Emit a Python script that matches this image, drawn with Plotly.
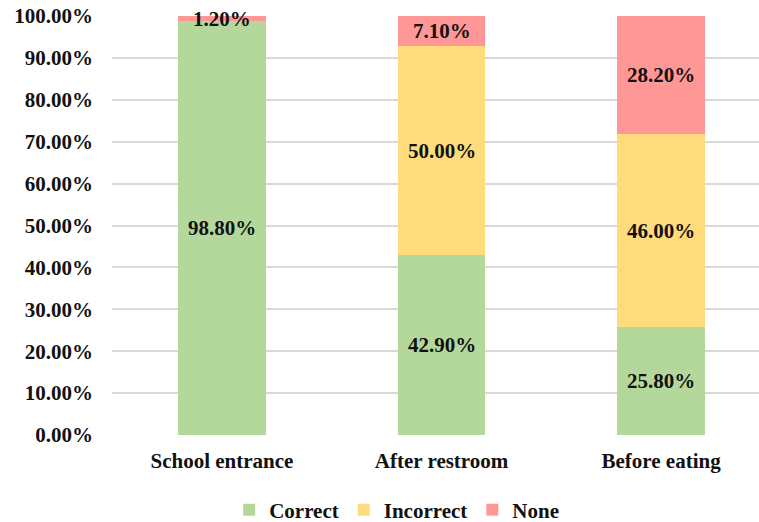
import plotly.graph_objects as go

# Hand-washing compliance by occasion (percent of observations)
categories = ["School entrance", "After restroom", "Before eating"]
correct = [98.8, 42.9, 25.8]
incorrect = [0.0, 50.0, 46.0]
none = [1.2, 7.1, 28.2]
tick_values = [0, 10, 20, 30, 40, 50, 60, 70, 80, 90, 100]
tick_labels = [f"{v:.2f}%" for v in tick_values]

series = [
    ("Correct", correct, "#B4D89C"),
    ("Incorrect", incorrect, "#FFDB7B"),
    ("None", none, "#FF9797"),
]

FONT = "Liberation Serif"
xpos = list(range(len(categories)))

fig = go.Figure()
for name, vals, color in series:
    fig.add_trace(go.Bar(
        x=xpos, y=vals, name=f"<b>{name}</b>", width=0.40,
        marker=dict(color=color, line=dict(width=0)),
    ))

# value labels centred in each segment
annotations = []
for i in xpos:
    base = 0.0
    for name, vals, color in series:
        v = vals[i]
        if v > 0:
            annotations.append(dict(
                x=i, y=base + v / 2, xref="x", yref="y",
                text=f"<b>{v:.2f}%</b>", showarrow=False,
                font=dict(family=FONT, size=21, color="#111111"),
            ))
        base += v

fig.update_layout(
    barmode="stack",
    width=759, height=522,
    margin=dict(l=112, r=0, t=16, b=87, autoexpand=False),
    paper_bgcolor="white", plot_bgcolor="white",
    font=dict(family=FONT, size=21, color="#111111"),
    annotations=annotations,
    bargap=0,
    legend=dict(
        orientation="h", x=0.44, xanchor="center", y=-0.179, yanchor="middle",
        font=dict(family=FONT, size=21, color="#111111"),
        bgcolor="rgba(0,0,0,0)",
        traceorder="normal", itemwidth=30,
    ),
    xaxis=dict(
        tickmode="array", tickvals=xpos, ticktext=[f"<b>{c}</b>" for c in categories],
        range=[-0.501, 2.446], showgrid=False, zeroline=False,
        showline=False, ticks="", ticklabelstandoff=11,
    ),
    yaxis=dict(
        range=[0, 100], tickmode="array", tickvals=tick_values,
        ticktext=[f"<b>{t}</b>" for t in tick_labels],
        showgrid=True, gridcolor="#D9D9D9", gridwidth=1.5,
        zeroline=False, showline=False, ticks="", ticklabelstandoff=18,
    ),
)

fig.write_html("out.html")
